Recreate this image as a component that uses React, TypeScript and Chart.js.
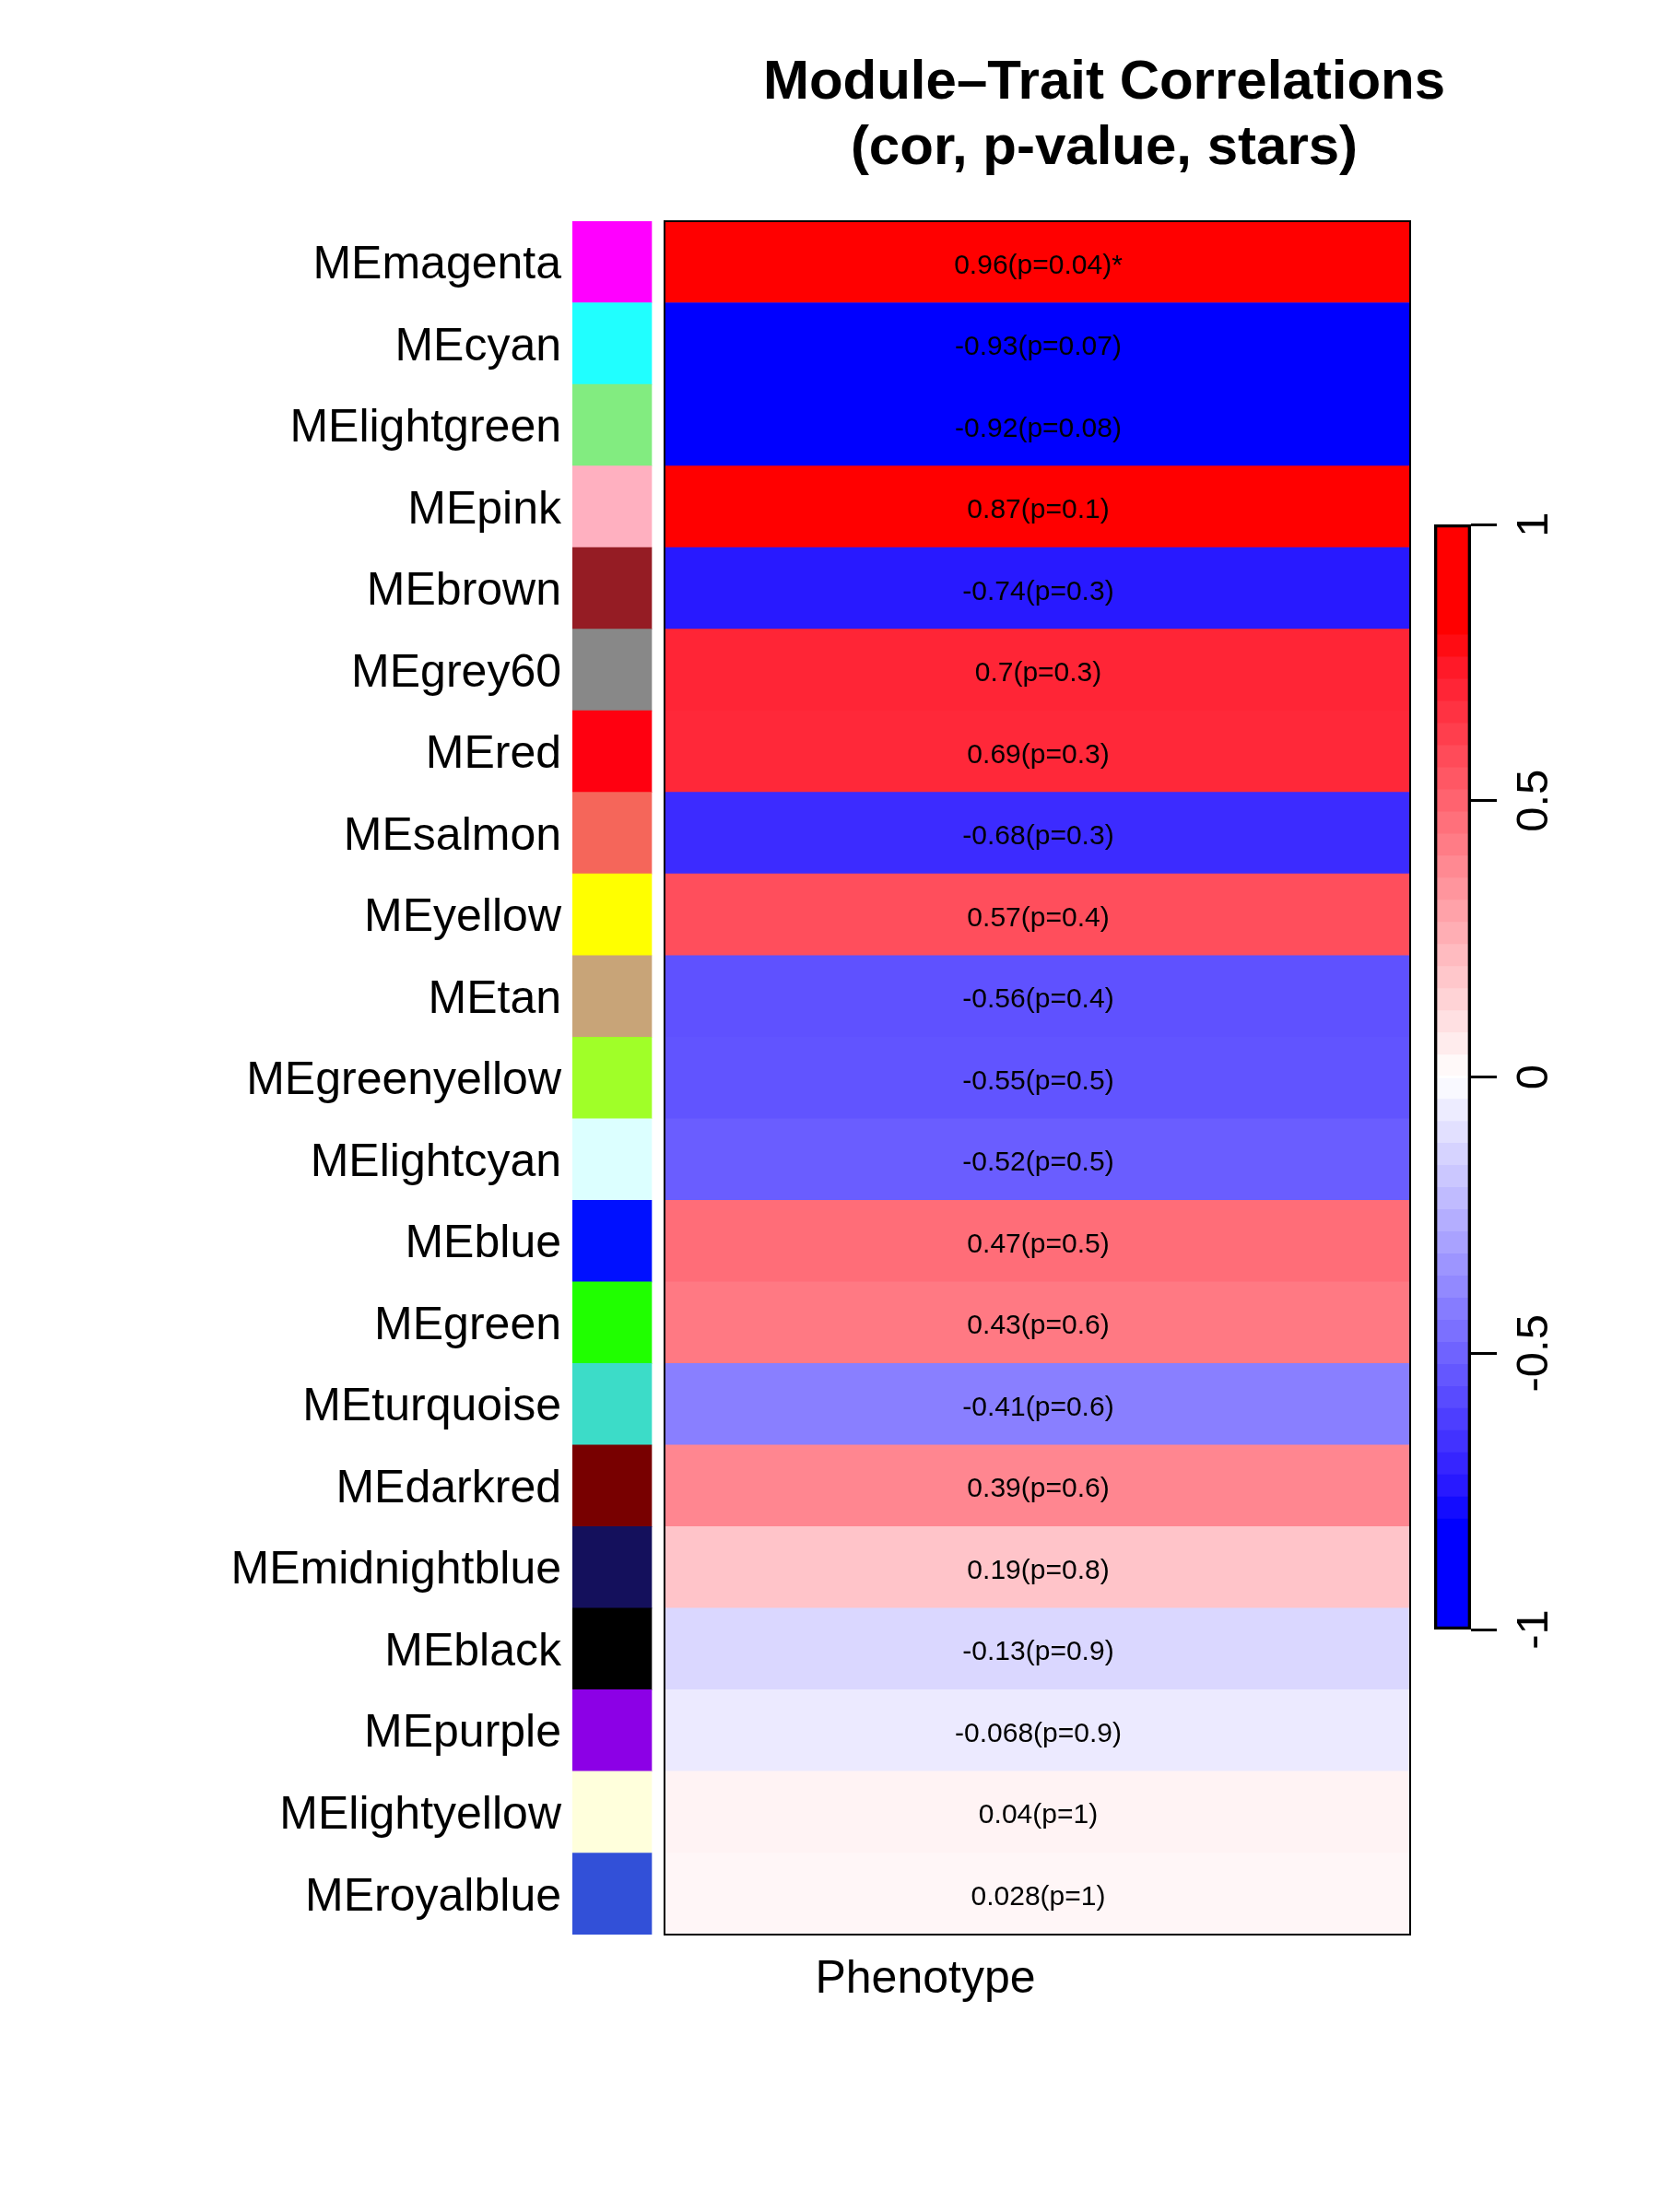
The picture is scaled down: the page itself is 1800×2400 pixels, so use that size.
import React, { useEffect, useRef } from 'react';
import { Chart, registerables } from 'chart.js';

Chart.register(...registerables);

// ---------------- data ----------------
const modules = [
  'MEmagenta', 'MEcyan', 'MElightgreen', 'MEpink', 'MEbrown', 'MEgrey60', 'MEred',
  'MEsalmon', 'MEyellow', 'MEtan', 'MEgreenyellow', 'MElightcyan', 'MEblue', 'MEgreen',
  'MEturquoise', 'MEdarkred', 'MEmidnightblue', 'MEblack', 'MEpurple', 'MElightyellow', 'MEroyalblue',
];
const moduleColors = [
  '#ff00ff', '#20ffff', '#82ec80', '#ffb0c0', '#951c24', '#888888', '#ff0010',
  '#f5665a', '#ffff00', '#c8a478', '#a0ff28', '#dcffff', '#0010ff', '#20ff00',
  '#3cdcc8', '#780000', '#14105c', '#000000', '#8c00e6', '#ffffdc', '#3250d8',
];
const correlations = [
  0.96, -0.93, -0.92, 0.87, -0.74, 0.7, 0.69, -0.68, 0.57, -0.56, -0.55, -0.52, 0.47, 0.43,
  -0.41, 0.39, 0.19, -0.13, -0.068, 0.04, 0.028,
];
const pValues = [
  '0.04', '0.07', '0.08', '0.1', '0.3', '0.3', '0.3', '0.3', '0.4', '0.4', '0.5', '0.5', '0.5', '0.6',
  '0.6', '0.6', '0.8', '0.9', '0.9', '1', '1',
];
const stars = ['*', '', '', '', '', '', '', '', '', '', '', '', '', '', '', '', '', '', '', '', ''];
const colorbarTicks = [-1, -0.5, 0, 0.5, 1];
const titleLines = ['Module–Trait Correlations', '(cor, p-value, stars)'];
const traitLabel = 'Phenotype';

// ---------------- style ----------------
const FONT = '"Liberation Sans", Arial, Helvetica, sans-serif';
const COLORBAR_BINS = 50;

function corColor(v: number): string {
  const a = Math.min(1, Math.abs(v));
  const w = Math.max(0, 1 - 1.22 * a);
  const base = Math.round(255 * w);
  const tint = Math.round(Math.min(150 * w, 20 * (1 - w)));
  if (v < 0) return `rgb(${Math.min(255, base + tint)},${base},255)`;
  return `rgb(255,${base},${Math.min(255, base + tint)})`;
}

// x-scale layout (heatmap spans 0..1, strip sits left of it)
const X_MIN = -0.1236;
const STRIP_LO = -0.1236;
const STRIP_HI = -0.0173;

const cellLabelPlugin = {
  id: 'cellLabels',
  afterDatasetsDraw(chart: any) {
    const ctx = chart.ctx;
    const meta = chart.getDatasetMeta(0);
    ctx.save();
    ctx.fillStyle = '#000';
    ctx.font = `30px ${FONT}`;
    ctx.textAlign = 'center';
    ctx.textBaseline = 'middle';
    meta.data.forEach((el: any, i: number) => {
      const cx = (el.x + el.base) / 2;
      const txt = `${correlations[i]}(p=${pValues[i]})${stars[i]}`;
      ctx.fillText(txt, cx + 1, el.y + 4);
    });
    // heatmap frame
    const xs = chart.scales.x;
    const l = xs.getPixelForValue(0);
    const r = xs.getPixelForValue(1);
    const { top, bottom } = chart.chartArea;
    ctx.strokeStyle = '#000';
    ctx.lineWidth = 2;
    ctx.strokeRect(l, top, r - l, bottom - top);
    ctx.restore();
  },
};

export default function App() {
  const mainRef = useRef<HTMLCanvasElement | null>(null);
  const barRef = useRef<HTMLCanvasElement | null>(null);

  useEffect(() => {
    const main = new Chart(mainRef.current as HTMLCanvasElement, {
      type: 'bar',
      data: {
        labels: modules,
        datasets: [
          {
            label: 'Phenotype',
            data: correlations.map(() => [0, 1]) as any,
            backgroundColor: correlations.map(corColor),
            borderWidth: 0,
            grouped: false,
            barPercentage: 1,
            categoryPercentage: 1,
          } as any,
          {
            label: 'module',
            data: modules.map(() => [STRIP_LO, STRIP_HI]) as any,
            backgroundColor: moduleColors,
            borderWidth: 0,
            grouped: false,
            barPercentage: 1,
            categoryPercentage: 1,
          } as any,
        ],
      },
      options: {
        indexAxis: 'y',
        responsive: false,
        maintainAspectRatio: false,
        animation: false,
        layout: { padding: { left: 0, top: 240, right: 270, bottom: 301 } },
        plugins: { legend: { display: false }, tooltip: { enabled: false }, title: { display: false } },
        scales: {
          x: { type: 'linear', min: X_MIN, max: 1, display: false },
          y: {
            type: 'category',
            grid: { display: false, drawTicks: false },
            border: { display: false },
            ticks: { color: '#000', font: { family: FONT, size: 50 }, padding: 12, labelOffset: 4, autoSkip: false },
            afterFit: (s: any) => { s.width = 621; },
          },
        },
      } as any,
      plugins: [cellLabelPlugin],
    });

    const bins = Array.from({ length: COLORBAR_BINS }, (_, i) => {
      const lo = -1 + (2 * i) / COLORBAR_BINS;
      const hi = -1 + (2 * (i + 1)) / COLORBAR_BINS;
      return { lo, hi, mid: (lo + hi) / 2 };
    });

    const bar = new Chart(barRef.current as HTMLCanvasElement, {
      type: 'bar',
      data: {
        labels: [''],
        datasets: [
          {
            data: [[-1, 1]] as any,
            backgroundColor: 'rgba(0,0,0,0)',
            borderColor: '#000',
            borderWidth: 3,
            borderSkipped: false,
            grouped: false,
            barPercentage: 1,
            categoryPercentage: 1,
          } as any,
          ...bins.map((b) => ({
            data: [[b.lo, b.hi]] as any,
            backgroundColor: corColor(b.mid),
            borderWidth: 0,
            grouped: false,
            barPercentage: 1,
            categoryPercentage: 1,
          } as any)),
        ],
      },
      options: {
        responsive: false,
        maintainAspectRatio: false,
        animation: false,
        layout: { padding: { left: 56, top: 69, right: 0, bottom: 132 } },
        plugins: { legend: { display: false }, tooltip: { enabled: false } },
        scales: {
          x: { type: 'category', display: false },
          y: {
            type: 'linear',
            position: 'right',
            min: -1,
            max: 1,
            afterBuildTicks: (s: any) => { s.ticks = colorbarTicks.map((v) => ({ value: v })); },
            grid: { display: true, drawOnChartArea: false, drawTicks: true, tickLength: 28, color: '#000', lineWidth: 3 },
            border: { display: false },
            ticks: {
              color: '#000',
              font: { family: FONT, size: 49 },
              crossAlign: 'center',
              minRotation: 90,
              maxRotation: 90,
              padding: -1,
              callback: (v: any) => String(v),
            },
            afterFit: (s: any) => { s.width = 204; },
          },
        },
      } as any,
    });

    return () => { main.destroy(); bar.destroy(); };
  }, []);

  return (
    <div style={{ position: 'absolute', left: 0, top: 0, width: 1800, height: 2400, background: '#fff', fontFamily: FONT }}>
      <div style={{ position: 'absolute', left: 698, top: 51, width: 1000, textAlign: 'center', fontWeight: 'bold', fontSize: 60, lineHeight: '71px', color: '#000' }}>
        {titleLines.map((t) => (<div key={t}>{t}</div>))}
      </div>
      <canvas ref={mainRef} width={1800} height={2400} style={{ position: 'absolute', left: 0, top: 0, width: 1800, height: 2400 }} />
      <canvas ref={barRef} width={300} height={1400} style={{ position: 'absolute', left: 1500, top: 500, width: 300, height: 1400 }} />
      <div style={{ position: 'absolute', left: 804, top: 2120, width: 400, textAlign: 'center', fontSize: 50, lineHeight: '50px', color: '#000' }}>
        {traitLabel}
      </div>
    </div>
  );
}
